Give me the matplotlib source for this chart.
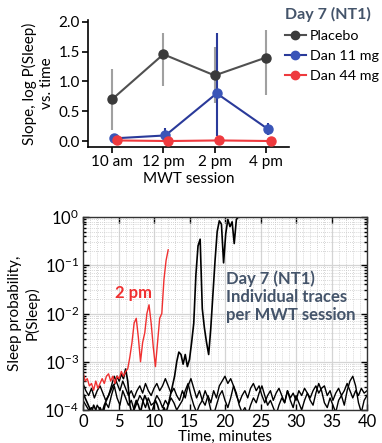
import numpy as np
import matplotlib
matplotlib.use("Agg")
import matplotlib.pyplot as plt
from matplotlib.ticker import LogLocator, MultipleLocator, NullFormatter
from matplotlib.lines import Line2D

plt.rcParams['font.family'] = ['Lato', 'DejaVu Sans']

# ---------------- data: top panel ----------------
sessions = ["10 am", "12 pm", "2 pm", "4 pm"]
placebo = [0.70, 1.455, 1.10, 1.40]
placebo_lo = [0.19, 0.93, 0.64, 0.78]
placebo_hi = [1.21, 1.82, 1.57, 1.86]
dan11 = [0.045, 0.094, 0.80, 0.20]
dan11_lo = [0.03, 0.0, 0.08, 0.106]
dan11_hi = [0.06, 0.22, 1.82, 0.30]
dan44 = [0.01, 0.0, 0.01, 0.0]

# ---------------- data: bottom panel (log10 P(Sleep)) ----------------
red_dt = 0.3
red_2pm = [-3.21, -3.4, -3.35, -3.5, -3.45, -3.59, -3.4, -3.55, -3.45, -3.35,
           -3.45, -3.3, -3.25, -3.4, -3.3, -3.45, -3.3, -3.35, -3.2, -3.3,
           -3.2, -3.15, -2.9, -2.6, -2.2, -2.1, -2.5, -3.0, -2.6, -2.4,
           -2.0, -1.82, -2.2, -2.7, -3.1, -2.6, -2.1, -2.0, -1.3, -0.9, -0.68]

b1_dt = 0.3
black_1 = [-3.65, -3.75, -3.85, -3.95, -4.05, -3.9, -4.0, -4.1, -3.95, -4.05,
           -3.9, -3.8, -3.7, -3.6, -3.5, -3.45, -3.3, -3.4, -3.25, -3.35,
           -3.15, -3.4, -3.9, -4.1, -3.95, -3.8, -3.9, -4.05, -3.85, -3.7,
           -3.8, -3.95, -4.1, -3.95, -3.8, -3.9, -4.05, -4.1, -3.95, -4.05,
           -3.9,
           -3.7, -3.5, -3.3, -3.0, -2.8, -2.85, -3.05, -2.85, -3.1, -2.95,
           -2.6, -2.2, -1.2, -0.6, -0.46, -1.9, -2.3, -2.6, -2.85, -2.3,
           -1.6, -0.9, -0.3, -0.08, -0.15, -0.95, -0.35, -0.05, -0.2, -0.1,
           -0.55, -0.05, 0.0, 0.0, 0.0]

b23_dt = 0.4
black_2 = [-3.45, -3.6, -3.7, -3.55, -3.75, -3.6, -3.5, -3.65, -3.8, -3.7,
           -3.5, -3.3, -3.45, -3.6, -3.4, -3.55, -3.7, -3.6, -3.75, -3.6,
           -3.5, -3.65, -3.45, -3.6, -3.7, -3.55, -3.45, -3.6, -3.5, -3.35,
           -3.5, -3.65, -3.55, -3.7, -3.8, -3.6, -3.75, -3.5, -3.35, -3.55,
           -3.75, -3.6, -3.8, -3.9, -3.7, -3.85, -3.6, -3.75, -3.5, -3.4,
           -3.3, -3.45, -3.35, -3.5, -3.7, -3.85, -3.7, -3.6, -3.75, -3.55,
           -3.45, -3.6, -3.5, -3.7, -3.85, -3.7, -3.6, -3.8, -3.65, -3.55,
           -3.7, -3.85, -3.6, -3.75, -3.65, -3.8, -3.6, -3.7, -3.55, -3.65,
           -3.75, -3.6, -3.5, -3.65, -3.55, -3.5, -3.7, -3.6, -3.8, -3.65,
           -3.55, -3.7, -3.6, -3.45, -3.6, -3.75, -3.6, -3.7, -3.55, -3.65,
           -3.6]
black_3 = [-3.8, -3.9, -4.0, -3.95, -4.1, -3.9, -4.0, -4.1, -3.85, -3.95,
           -3.7, -3.5, -3.75, -3.9, -3.6, -3.75, -3.9, -3.8, -4.0, -3.85,
           -3.7, -3.8, -3.95, -3.75, -3.9, -3.85, -3.7, -3.8, -3.95, -3.8,
           -3.9, -3.75, -3.85, -4.0, -3.9, -3.8, -3.6, -3.45, -3.7, -3.9,
           -4.05, -3.9, -3.8, -3.6, -3.75, -4.0, -4.1, -3.9, -3.7, -3.6,
           -3.8, -3.95, -3.75, -3.5, -3.65, -3.9, -4.05, -3.95, -4.1, -3.9,
           -3.75, -3.85, -3.65, -3.5, -3.7, -3.9, -3.8, -3.95, -4.1, -3.9,
           -3.75, -3.85, -3.6, -3.8, -3.95, -3.7, -3.85, -4.0, -3.8, -3.65,
           -3.8, -3.9, -3.65, -3.45, -3.6, -3.85, -3.95, -3.75, -3.9, -4.05,
           -3.8, -3.7, -3.9, -3.6, -3.4, -3.3, -3.5, -3.85, -4.05, -3.8,
           -3.7]

# ---------------- figure ----------------
W, H = 382, 443
fig = plt.figure(figsize=(W / 100, H / 100), dpi=100)
title_col = '#44546A'
FS = 11

# top panel
ax1 = fig.add_axes([88 / W, 1 - 147 / H, (289 - 88) / W, (147 - 20) / H])
x = np.arange(len(sessions))
c_pl, c_pl_err = '#505050', '#a0a0a0'
c_11, c_11_m = '#2a3a9a', '#3a55b8'
c_44 = '#ee3a3e'

ax1.errorbar(x, placebo,
             yerr=[np.array(placebo) - np.array(placebo_lo), np.array(placebo_hi) - np.array(placebo)],
             fmt='none', ecolor=c_pl_err, elinewidth=1.5, capsize=0, zorder=1)
ax1.plot(x, placebo, '-o', color=c_pl, mfc='#3a3a3a', mec='#3a3a3a', ms=6.5, lw=1.5, zorder=3)
x11 = x + 0.04
ax1.errorbar(x11, dan11,
             yerr=[np.array(dan11) - np.array(dan11_lo), np.array(dan11_hi) - np.array(dan11)],
             fmt='none', ecolor=c_11, elinewidth=1.5, capsize=0, zorder=2)
ax1.plot(x11, dan11, '-o', color=c_11, mfc=c_11_m, mec=c_11_m, ms=6.5, lw=1.5, zorder=4)
x44 = x + 0.09
ax1.plot(x44, dan44, '-o', color=c_44, mfc=c_44, mec=c_44, ms=6.5, lw=1.5, zorder=5)

ax1.set_xlim(-0.47, 3.45)
ax1.set_ylim(-0.1, 2.03)
ax1.set_xticks(x)
ax1.set_xticklabels(sessions, fontsize=FS)
ax1.set_yticks([0, 0.5, 1.0, 1.5, 2.0])
ax1.set_yticklabels(['0.0', '0.5', '1.0', '1.5', '2.0'], fontsize=FS)
for s in ['top', 'right']:
    ax1.spines[s].set_visible(False)
for s in ['left', 'bottom']:
    ax1.spines[s].set_linewidth(1.2)
ax1.tick_params(direction='out', length=4, width=1.2, pad=2)
ax1.set_xlabel('MWT session', fontsize=FS, labelpad=2)
ax1.set_ylabel('Slope, log P(Sleep)\nvs. time', fontsize=FS, labelpad=3, linespacing=1.25)

handles = [Line2D([], [], color=c_pl, marker='o', mfc='#3a3a3a', mec='#3a3a3a', ms=6, lw=1.5),
           Line2D([], [], color=c_11, marker='o', mfc=c_11_m, mec=c_11_m, ms=6, lw=1.5),
           Line2D([], [], color=c_44, marker='o', mfc=c_44, mec=c_44, ms=6, lw=1.5)]
leg = fig.legend(handles, ['Placebo', 'Dan 11 mg', 'Dan 44 mg'], loc='upper left',
                 bbox_to_anchor=(285 / W, 1 - 7 / H), frameon=False, fontsize=10.3,
                 title='Day 7 (NT1)', alignment='left', handlelength=1.45,
                 handletextpad=0.3, labelspacing=0.55, borderpad=0, borderaxespad=0)
leg.get_title().set_fontweight('bold')
leg.get_title().set_color(title_col)
leg.get_title().set_fontsize(11.5)

# bottom panel
ax2 = fig.add_axes([83 / W, 1 - 410 / H, 284 / W, 193 / H])
ax2.set_yscale('log')
ax2.set_xlim(0, 40)
ax2.set_ylim(1e-4, 1e0)
ax2.grid(True, which='major', color='#d4d4d4', lw=0.9, ls='-')
ax2.grid(True, which='minor', color='#c8c8c8', lw=0.6, ls=(0, (1, 1.5)))
ax2.set_axisbelow(True)

t1 = np.arange(len(black_1)) * b1_dt
t23 = np.arange(len(black_2)) * b23_dt
tr = np.arange(len(red_2pm)) * red_dt
ax2.plot(t23, 10 ** np.array(black_2), color='black', lw=1.0)
ax2.plot(t23, 10 ** np.array(black_3), color='black', lw=1.0)
ax2.plot(t1, 10 ** np.array(black_1), color='black', lw=1.2)
ax2.plot(tr, 10 ** np.array(red_2pm), color='#f03030', lw=1.0)

ax2.xaxis.set_major_locator(MultipleLocator(5))
ax2.xaxis.set_minor_locator(MultipleLocator(1))
ax2.yaxis.set_major_locator(LogLocator(base=10, numticks=10))
ax2.yaxis.set_minor_locator(LogLocator(base=10, subs=np.arange(2, 10), numticks=20))
ax2.yaxis.set_minor_formatter(NullFormatter())
ax2.tick_params(which='both', direction='in', top=True, right=True, labelsize=FS + 1, width=1.0)
ax2.tick_params(which='major', length=4, pad=3)
ax2.tick_params(which='minor', length=2)
ax2.tick_params(axis='x', which='minor', length=0)
for s in ax2.spines.values():
    s.set_linewidth(1.0)
    s.set_color('#333333')
ax2.set_xlabel('Time, minutes', fontsize=FS, labelpad=0)
ax2.set_ylabel('Sleep probability,\nP(Sleep)', fontsize=FS, labelpad=3, linespacing=1.25)

ax2.text(0.113, 0.608, '2 pm', transform=ax2.transAxes, color='#f03030',
         fontsize=FS + 1, fontweight='bold', va='center', ha='left')
ax2.text(0.503, 0.725, 'Day 7 (NT1)\nIndividual traces\nper MWT session', transform=ax2.transAxes,
         color=title_col, fontsize=FS + 1, fontweight='bold', va='top', ha='left', linespacing=1.15)

fig.savefig('out.png', dpi=100)
